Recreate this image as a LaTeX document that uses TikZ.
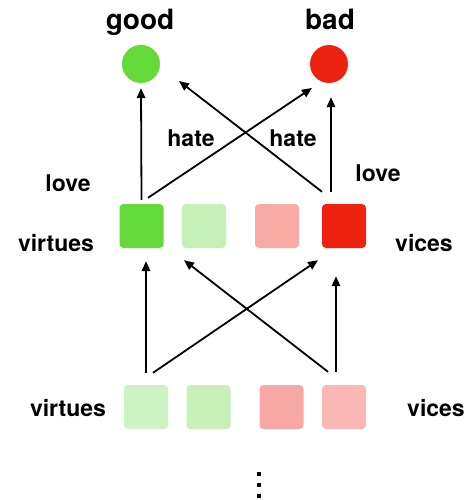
\documentclass[tikz,border=0pt]{standalone}
\usepackage{fontspec}
\setmainfont{TeX Gyre Heros}
\usetikzlibrary{arrows.meta}
\definecolor{gbright}{HTML}{63D93A}
\definecolor{glight}{HTML}{C6F0B7}
\definecolor{glight2}{HTML}{CCF4C3}
\definecolor{rlight}{HTML}{F8AAA5}
\definecolor{rbright}{HTML}{EE2211}
\definecolor{rlight2}{HTML}{F9B8B2}
\definecolor{rlight3}{HTML}{F7A8A2}
\tikzset{
  sq/.style={draw=none, rounded corners=4pt, minimum size=44pt, inner sep=0pt},
  circ/.style={circle, draw=none, minimum size=38pt, inner sep=0pt},
  lbl/.style={font=\bfseries\fontsize{23}{27}\selectfont, anchor=base, inner sep=0pt},
  big/.style={font=\bfseries\fontsize{28}{32}\selectfont, anchor=base, inner sep=0pt},
  arr/.style={line width=1.8pt, -{Triangle[length=10pt,width=8.5pt]}},
  dot/.style={fill=black, minimum size=4.5pt, inner sep=0pt, draw=none}
}
\begin{document}
\begin{tikzpicture}[x=1pt,y=-1pt]
\useasboundingbox (0,0) rectangle (468,500);
% top circles
\node[circ, fill=gbright] (good) at (141,64) {};
\node[circ, fill=rbright] (bad) at (329,64) {};
\node[big] (goodt) at (140,30) {good};
\node[big] (badt) at (330,30) {bad};
% middle squares
\node[sq, fill=gbright] (m1) at (141.5,226) {};
\node[sq, fill=glight] (m2) at (204,226) {};
\node[sq, fill=rlight] (m3) at (277,226) {};
\node[sq, fill=rbright] (m4) at (344,226) {};
% bottom squares
\node[sq, fill=glight2] (b1) at (146,407) {};
\node[sq, fill=glight] (b2) at (208.5,407) {};
\node[sq, fill=rlight3] (b3) at (281.5,407) {};
\node[sq, fill=rlight2] (b4) at (344,407) {};
% labels
\node[lbl] (hate1) at (191,146) {hate};
\node[lbl] (hate2) at (293,146) {hate};
\node[lbl] (love1) at (68,191) {love};
\node[lbl] (love2) at (378,181) {love};
\node[lbl] (virt1) at (56,251) {virtues};
\node[lbl] (vice1) at (424,251) {vices};
\node[lbl] (virt2) at (68,416) {virtues};
\node[lbl] (vice2) at (436,416) {vices};
% upper arrows
\draw[arr] ([yshift=4pt]m1.north) -- ([yshift=-5pt]good.south);
\draw[arr] ([xshift=6.5pt,yshift=6pt]m1.north) -- ([xshift=-17pt,yshift=-24pt]bad.center);
\draw[arr] ([xshift=-22pt,yshift=12pt]m4.north) -- ([xshift=38pt,yshift=-17pt]good.center);
\draw[arr] ([xshift=-13pt,yshift=12pt]m4.north) -- ([xshift=2pt,yshift=-14pt]bad.south);
% lower arrows
\draw[arr] ([yshift=12pt]b1.north) -- ([xshift=4.5pt,yshift=-13pt]m1.south);
\draw[arr] ([xshift=7pt,yshift=12pt]b1.north) -- ([xshift=-26pt,yshift=-12pt]m4.south);
\draw[arr] ([xshift=-16pt,yshift=13pt]b4.north) -- ([xshift=-20pt,yshift=-12pt]m2.south);
\draw[arr] ([xshift=-8pt,yshift=13pt]b4.north) -- ([xshift=-8pt,yshift=-28pt]m4.south);
% vertical ellipsis
\node[dot] (d1) at (259,474) {};
\node[dot] (d2) at (259,485) {};
\node[dot] (d3) at (259,496) {};
\end{tikzpicture}
\end{document}
